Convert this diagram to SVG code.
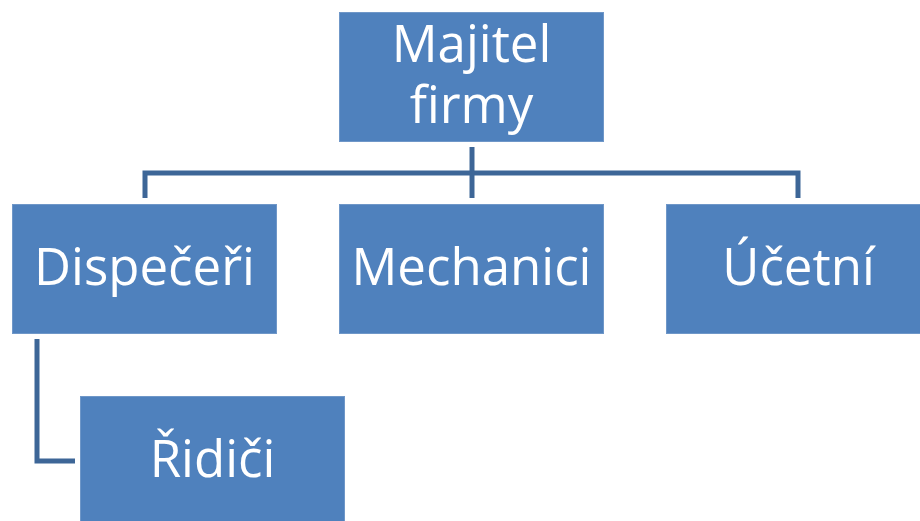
<svg xmlns="http://www.w3.org/2000/svg" width="920" height="521" viewBox="0 0 920 521">
<style>
.box{fill:#4F81BD;stroke:#6F97C8;stroke-width:1}
.lbl{font-family:"Open Sans","Liberation Sans",sans-serif;font-size:51px;fill:#FFFFFF;text-anchor:middle}
.con{fill:none;stroke:#3D6697;stroke-width:5}
</style>
<rect width="920" height="521" fill="#FFFFFF"/>
<g id="connectors">
<path class="con" d="M472 147 V198"/>
<path class="con" d="M145 198 V173 H798 V198"/>
<path class="con" d="M37 339 V461 H75"/>
</g>
<g id="majitel">
<rect class="box" x="339.5" y="12.5" width="264" height="129"/>
<text class="lbl" x="471.5" y="62">Majitel</text>
<text class="lbl" x="471.5" y="123">firmy</text>
</g>
<g id="dispeceri">
<rect class="box" x="12.5" y="204.5" width="264" height="129"/>
<text class="lbl" x="144.5" y="285">Dispečeři</text>
</g>
<g id="mechanici">
<rect class="box" x="339.5" y="204.5" width="264" height="129"/>
<text class="lbl" x="471.5" y="285">Mechanici</text>
</g>
<g id="ucetni">
<rect class="box" x="666.5" y="204.5" width="264" height="129"/>
<text class="lbl" x="798.5" y="285">Účetní</text>
</g>
<g id="ridici">
<rect class="box" x="80.5" y="396.5" width="264" height="129"/>
<text class="lbl" x="212.5" y="477">Řidiči</text>
</g>
</svg>
